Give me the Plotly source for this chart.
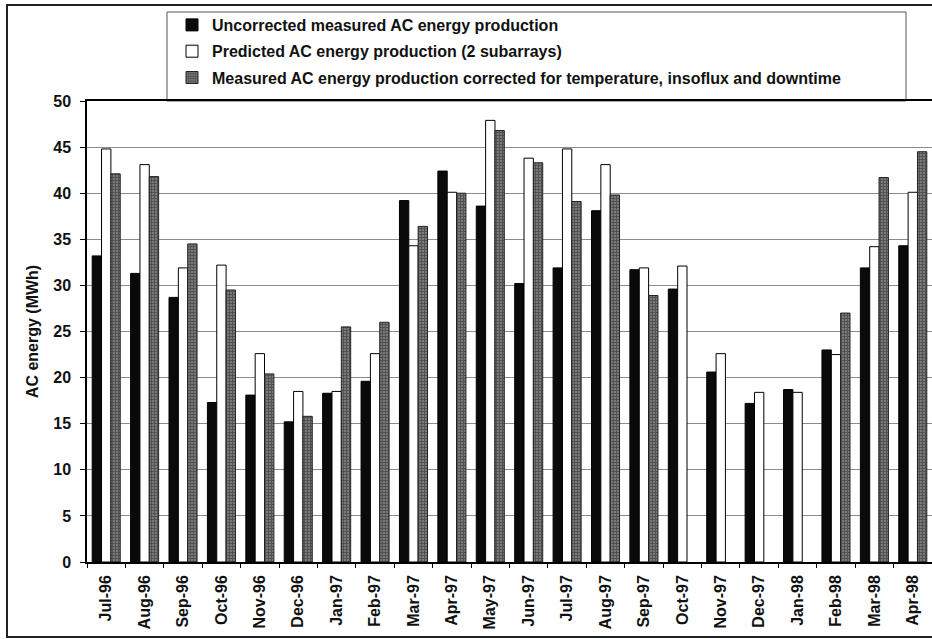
import plotly.graph_objects as go

months = ["Jul-96", "Aug-96", "Sep-96", "Oct-96", "Nov-96", "Dec-96", "Jan-97", "Feb-97",
          "Mar-97", "Apr-97", "May-97", "Jun-97", "Jul-97", "Aug-97", "Sep-97", "Oct-97",
          "Nov-97", "Dec-97", "Jan-98", "Feb-98", "Mar-98", "Apr-98"]
uncorrected = [33.2, 31.3, 28.7, 17.3, 18.1, 15.2, 18.3, 19.6, 39.2, 42.4, 38.6, 30.2,
               31.9, 38.1, 31.7, 29.6, 20.6, 17.2, 18.7, 23.0, 31.9, 34.3]
predicted = [44.8, 43.1, 31.9, 32.2, 22.6, 18.5, 18.5, 22.6, 34.3, 40.1, 47.9, 43.8,
             44.8, 43.1, 31.9, 32.1, 22.6, 18.4, 18.4, 22.5, 34.2, 40.1]
corrected = [42.1, 41.8, 34.5, 29.5, 20.4, 15.8, 25.5, 26.0, 36.4, 40.0, 46.8, 43.3,
             39.1, 39.8, 28.9, None, None, None, None, 27.0, 41.7, 44.5]
y_ticks = [0, 5, 10, 15, 20, 25, 30, 35, 40, 45, 50]

FONT = "Liberation Sans, Arial, sans-serif"

fig = go.Figure()
fig.add_trace(go.Bar(
    x=months, y=uncorrected, name="Uncorrected measured AC energy production",
    marker=dict(color="#0a0a0a", line=dict(color="#000000", width=1)),
    legendgroup="a",
))
fig.add_trace(go.Bar(
    x=months, y=predicted, name="Predicted AC energy production (2 subarrays)",
    marker=dict(color="#ffffff", line=dict(color="#000000", width=1)),
    legendgroup="b",
))
fig.add_trace(go.Bar(
    x=months, y=corrected,
    name="Measured AC energy production corrected for temperature, insoflux and downtime",
    marker=dict(color="#666666", line=dict(color="#222222", width=1),
                pattern=dict(shape="+", size=3, solidity=0.5,
                             fgcolor="#222222", bgcolor="#7a7a7a", fillmode="overlay")),
    legendgroup="c",
))

W, H = 932, 639
L, R, T, B = 87, 0, 101, 77
pw = W - L - R
ph = H - T - B


def px_x(x):
    return (x - L) / pw


def px_y(y):
    return (H - B - y) / ph


fig.update_layout(
    width=W, height=H,
    margin=dict(l=L, r=R, t=T, b=B, autoexpand=False),
    paper_bgcolor="white", plot_bgcolor="white",
    barmode="group", bargap=0.27, bargroupgap=0,
    font=dict(family=FONT, size=15, color="#111111"),
    showlegend=True,
    legend=dict(
        x=px_x(172), y=px_y(8), xanchor="left", yanchor="top",
        bgcolor="rgba(0,0,0,0)", borderwidth=0,
        font=dict(family=FONT, size=16, color="#111111", weight="bold"),
        tracegroupgap=2.5, traceorder="grouped",
    ),
    xaxis=dict(
        type="category", categoryorder="array", categoryarray=months,
        showline=True, linecolor="#000000", linewidth=1.5, mirror=True,
        ticks="outside", ticklen=4, tickcolor="#000000", tickson="boundaries",
        tickangle=-90, showgrid=False, ticklabelstandoff=5,
        tickfont=dict(family=FONT, size=16, color="#111111", weight="bold"),
    ),
    yaxis=dict(
        range=[0, 50], tickvals=y_ticks, ticktext=[str(v) for v in y_ticks],
        showline=True, linecolor="#000000", linewidth=1.5,
        ticks="outside", ticklen=5, tickcolor="#000000",
        showgrid=True, gridcolor="#8c8c8c", gridwidth=1, zeroline=False,
        ticklabelstandoff=6,
        tickfont=dict(family=FONT, size=16, color="#111111", weight="bold"),
        title=dict(text="AC energy (MWh)", standoff=11,
                   font=dict(family=FONT, size=16, color="#111111", weight="bold")),
    ),
    shapes=[
        # outer frame
        dict(type="rect", xref="paper", yref="paper",
             x0=px_x(7), x1=px_x(935), y0=px_y(637), y1=px_y(5),
             line=dict(color="#222222", width=2), fillcolor="rgba(0,0,0,0)", layer="below"),
        # legend box
        dict(type="rect", xref="paper", yref="paper",
             x0=px_x(167), x1=px_x(906), y0=px_y(101), y1=px_y(12),
             line=dict(color="#555555", width=1), fillcolor="rgba(0,0,0,0)", layer="below"),
    ],
)

fig.write_html("out.html", config={"displayModeBar": False},
               post_script="document.body.style.margin='0';document.body.style.overflow='hidden';")
